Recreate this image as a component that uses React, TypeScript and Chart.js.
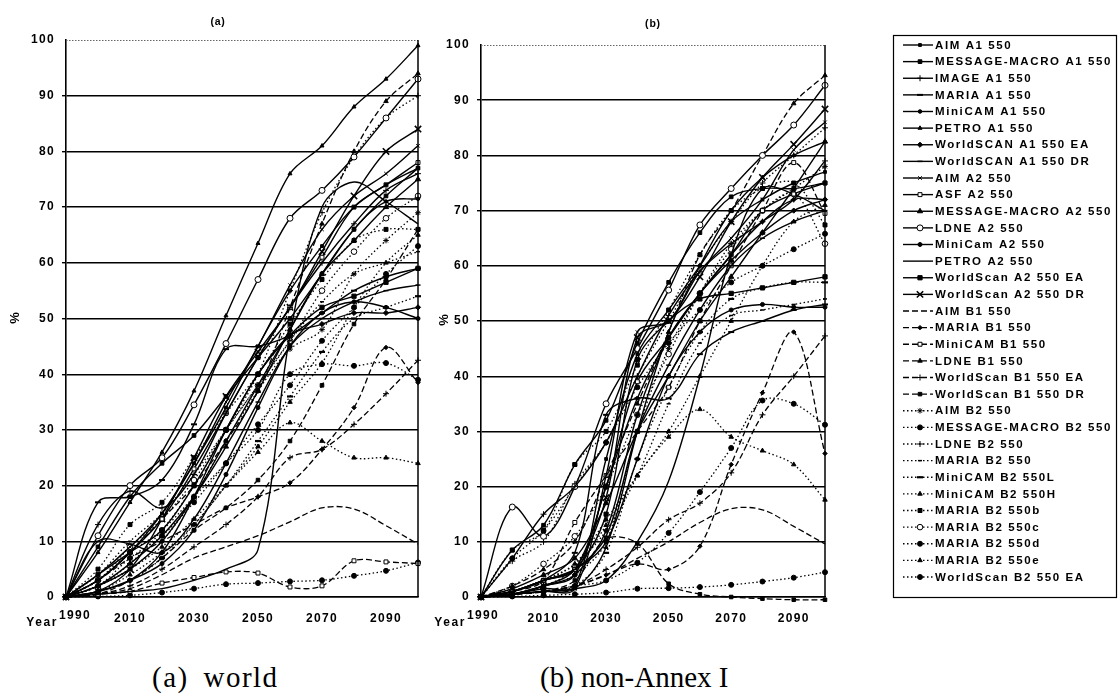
import React, { useEffect, useRef } from 'react';
import { Chart, registerables } from 'chart.js';
import { drawPoint } from 'chart.js/helpers';

Chart.register(...registerables);

const YEARS = [1990, 2000, 2010, 2020, 2030, 2040, 2050, 2060, 2070, 2080, 2090, 2100];
const X_TICKS = [1990, 2010, 2030, 2050, 2070, 2090];

const SERIES_NAMES = [
  'AIM A1 550', 'MESSAGE-MACRO A1 550', 'IMAGE A1 550', 'MARIA A1 550', 'MiniCAM A1 550',
  'PETRO A1 550', 'WorldSCAN A1 550 EA', 'WorldSCAN A1 550 DR', 'AIM A2 550', 'ASF A2 550',
  'MESSAGE-MACRO A2 550', 'LDNE A2 550', 'MiniCam A2 550', 'PETRO A2 550', 'WorldScan A2 550 EA',
  'WorldScan A2 550 DR', 'AIM B1 550', 'MARIA B1 550', 'MiniCAM B1 550', 'LDNE B1 550',
  'WorldScan B1 550 EA', 'WorldScan B1 550 DR', 'AIM B2 550', 'MESSAGE-MACRO B2 550', 'LDNE B2 550',
  'MARIA B2 550', 'MiniCAM B2 550L', 'MiniCAM B2 550H', 'MARIA B2 550b', 'MARIA B2 550c',
  'MARIA B2 550d', 'MARIA B2 550e', 'WorldScan B2 550 EA',
];

// (a) world
const W_AIM_A1 = [0, 3, 8, 15, 24, 34, 45, 55, 63, 70, 74, 77];
const W_MESSAGE_A1 = [0, 9, 18, 24, 29, 36, 43, 50, 58, 66, 72, 77];
const W_IMAGE_A1 = [0, 13, 19, 16, 22, 33, 43, 52, 60, 67, 73, 76];
const W_MARIA_A1 = [0, 17, 18, 21, 31, 44.5, 45, 47, 51, 55, 57.5, 59];
const W_MINICAM_A1 = [0, 2, 5, 10, 18, 28, 38, 48, 58, 66, 71, 71.5];
const W_PETRO_A1 = [0, 8, 17, 26, 37, 50.5, 63.5, 76, 81, 88, 93, 99];
const W_WSCAN_A1_EA = [0, 1, 3, 8, 18, 30, 40, 47, 49, 51, 51, 52];
const W_WSCAN_A1_DR = [0, 10, 9.5, 8, 14, 24, 35, 45, 50, 53, 55, 56];
const W_AIM_A2 = [0, 4, 9, 15, 24, 35, 45, 56, 66, 72, 76, 81];
const W_ASF_A2 = [0, 3, 8, 14, 23, 33, 43, 52, 61, 70, 74, 78];
const W_MESSAGE_A2 = [0, 2, 6, 11, 18, 27, 37, 48, 58, 64, 70, 75];
const W_LDNE_A2 = [0, 11, 20, 25, 34.5, 45.5, 57, 68, 73, 79, 86, 93];
const W_MINICAM_A2 = [0, 1, 3, 6, 12, 22, 34, 45, 51, 53, 52, 50];
const W_PETRO_A2 = [0, 0.5, 1, 1.5, 3, 5, 8.5, 47, 70, 74.5, 71, 67];
const W_WSCAN_A2_EA = [0, 4, 8, 12, 20, 30, 40, 47, 52, 54, 56.5, 59];
const W_WSCAN_A2_DR = [0, 1, 5, 14, 25, 36, 44, 52, 62, 72, 80, 84];
const W_AIM_B1 = [0, 0.5, 1.5, 4, 7, 9, 11, 13.5, 16, 15.8, 12.8, 9.5];
const W_MARIA_B1 = [0, 3, 7, 10, 13, 16, 18, 20.5, 26.5, 34, 44.8, 38.5];
const W_MINICAM_B1 = [0, 0.5, 1, 2.5, 3.5, 4.5, 4.3, 1.8, 2, 6.5, 6.3, 6];
const W_LDNE_B1 = [0, 3, 8, 14, 20, 28, 37, 52, 67, 80, 89, 94];
const W_WSCAN_B1_EA = [0, 0.5, 2, 5, 9, 13, 18, 25, 26.5, 31, 36.5, 42.5];
const W_WSCAN_B1_DR = [0, 0.5, 3, 7, 12, 16, 21, 28, 38, 49, 57, 66];
const W_AIM_B2 = [0, 2, 5, 10, 18, 28, 37, 44.5, 48, 58, 64, 69];
const W_MESSAGE_B2 = [0, 3, 8, 12, 18, 24, 30, 40, 41.8, 41.5, 42, 39];
const W_LDNE_B2 = [0, 2, 6, 12, 20, 30, 40, 55, 69, 79, 86, 90];
const W_MARIA_B2 = [0, 4, 10, 15, 22, 30, 38, 46, 53, 58, 60, 62];
const W_MINICAM_B2L = [0, 1, 3, 7, 13, 20, 28, 36, 44, 50, 52, 54];
const W_MINICAM_B2H = [0, 2, 5, 9, 14, 20, 26, 31.3, 28, 25, 25, 24];
const W_MARIA_B2B = [0, 5, 13, 17, 25, 33, 40, 49, 57, 64, 66, 66];
const W_MARIA_B2C = [0, 3, 9, 14, 21, 30, 38, 46, 55, 62, 68, 72];
const W_MARIA_B2D = [0, 2, 7, 11, 17, 24, 31, 38, 46, 52, 58, 63];
const W_MARIA_B2E = [0, 1, 4, 8, 13, 20, 27, 35, 42, 52, 60, 65];
const W_WSCAN_B2_EA = [0, 0.1, 0.3, 0.8, 1.5, 2.3, 2.5, 2.8, 3, 3.8, 4.7, 6.2];

// (b) non-Annex I
const N_AIM_A1 = [0, 0.5, 1.5, 2, 25, 44, 52, 60, 68, 72, 75, 77];
const N_MESSAGE_A1 = [0, 8.5, 13, 24, 32, 46, 57, 66, 72.5, 74, 74, 75];
const N_IMAGE_A1 = [0, 7, 15, 20, 28, 40, 51, 59, 64, 68, 72, 79];
const N_MARIA_A1 = [0, 1, 3, 8, 33, 36, 36, 44, 48, 50, 52, 53];
const N_MINICAM_A1 = [0, 0.5, 2, 4, 20, 36, 47, 55, 62, 68, 72, 72];
const N_PETRO_A1 = [0, 0.5, 1, 1.5, 9, 30, 48, 60, 70, 76, 80, 82.5];
const N_WSCAN_A1_EA = [0, 0.5, 2, 4, 12, 33, 47, 55, 61, 66, 70, 72];
const N_WSCAN_A1_DR = [0, 1, 3, 5, 11, 30, 42, 52, 60, 65, 68, 70];
const N_AIM_A2 = [0, 0.5, 1, 1.5, 22, 48, 50, 59, 65, 72, 81, 86];
const N_ASF_A2 = [0, 1, 3, 5, 20, 39, 47, 55, 62, 70, 73, 75];
const N_MESSAGE_A2 = [0, 1.5, 4, 7, 17, 30, 40, 50, 58, 66, 74, 82.5];
const N_LDNE_A2 = [0, 16.3, 11, 20, 35, 45, 55.6, 67.4, 74, 80, 85.5, 92.7];
const N_MINICAM_A2 = [0, 1, 3, 5, 10, 25, 40, 48, 52, 53, 52.5, 52.5];
const N_PETRO_A2 = [0, 0.5, 1, 1.5, 3, 10, 21, 40, 62, 74, 73, 70];
const N_WSCAN_A2_EA = [0, 1, 3, 5, 15, 43, 50, 54, 55, 56, 57, 58];
const N_WSCAN_A2_DR = [0, 0.5, 2, 5, 18, 47, 50, 58, 68, 76, 82, 88.4];
const N_AIM_B1 = [0, 0.5, 1, 2, 4, 7, 10, 13.5, 16, 15.8, 12.8, 9.6];
const N_MARIA_B1 = [0, 0.5, 1, 2, 4, 6, 5, 9.2, 24, 37, 48, 26];
const N_MINICAM_B1 = [0, 1, 3, 13.5, 22, 30, 38, 50, 60, 70, 78.7, 69.5];
const N_LDNE_B1 = [0, 2, 5, 10, 22, 35, 48, 62, 70, 80, 89.4, 94.5];
const N_WSCAN_B1_EA = [0, 0.5, 1, 2, 5, 9, 14, 17, 22.5, 33, 40, 47.3];
const N_WSCAN_B1_DR = [0, 0.5, 1, 3, 10.5, 9.7, 2.4, 0.5, 0, -0.3, -0.5, -0.5];
const N_AIM_B2 = [0, 0.5, 2, 4, 10, 30, 45, 55, 64, 70, 74, 78];
const N_MESSAGE_B2 = [0, 7, 12, 20, 28, 38, 46, 52, 57, 60, 63, 65.8];
const N_LDNE_B2 = [0, 6.5, 10, 20.5, 28, 40, 50, 60, 68, 75, 80, 85];
const N_MARIA_B2 = [0, 1, 3, 6, 12, 22, 35, 46, 51, 52, 53, 54];
const N_MINICAM_B2L = [0, 0.5, 1, 2, 8, 25, 38, 48, 54, 56, 57, 57];
const N_MINICAM_B2H = [0, 0.5, 2, 5, 13, 22, 29, 34, 29, 26.5, 24, 17.6];
const N_MARIA_B2B = [0, 8.5, 12, 24, 30, 42, 52, 62, 70, 74, 75, 67.4];
const N_MARIA_B2C = [0, 2, 6, 11, 20, 33, 44, 55, 63, 70, 73, 64];
const N_MARIA_B2D = [0, 0.5, 1, 2, 3, 6.2, 11.6, 19, 27, 35.6, 35, 31.2];
const N_MARIA_B2E = [0, 1, 3, 6, 14, 22, 30, 40, 50, 60, 68, 71];
const N_WSCAN_B2_EA = [0, 0.1, 0.3, 0.5, 0.8, 1.5, 1.6, 1.8, 2.2, 2.8, 3.5, 4.5];

const WORLD_SERIES = [
  W_AIM_A1, W_MESSAGE_A1, W_IMAGE_A1, W_MARIA_A1, W_MINICAM_A1, W_PETRO_A1, W_WSCAN_A1_EA,
  W_WSCAN_A1_DR, W_AIM_A2, W_ASF_A2, W_MESSAGE_A2, W_LDNE_A2, W_MINICAM_A2, W_PETRO_A2,
  W_WSCAN_A2_EA, W_WSCAN_A2_DR, W_AIM_B1, W_MARIA_B1, W_MINICAM_B1, W_LDNE_B1, W_WSCAN_B1_EA,
  W_WSCAN_B1_DR, W_AIM_B2, W_MESSAGE_B2, W_LDNE_B2, W_MARIA_B2, W_MINICAM_B2L, W_MINICAM_B2H,
  W_MARIA_B2B, W_MARIA_B2C, W_MARIA_B2D, W_MARIA_B2E, W_WSCAN_B2_EA,
];
const NONANNEX_SERIES = [
  N_AIM_A1, N_MESSAGE_A1, N_IMAGE_A1, N_MARIA_A1, N_MINICAM_A1, N_PETRO_A1, N_WSCAN_A1_EA,
  N_WSCAN_A1_DR, N_AIM_A2, N_ASF_A2, N_MESSAGE_A2, N_LDNE_A2, N_MINICAM_A2, N_PETRO_A2,
  N_WSCAN_A2_EA, N_WSCAN_A2_DR, N_AIM_B1, N_MARIA_B1, N_MINICAM_B1, N_LDNE_B1, N_WSCAN_B1_EA,
  N_WSCAN_B1_DR, N_AIM_B2, N_MESSAGE_B2, N_LDNE_B2, N_MARIA_B2, N_MINICAM_B2L, N_MINICAM_B2H,
  N_MARIA_B2B, N_MARIA_B2C, N_MARIA_B2D, N_MARIA_B2E, N_WSCAN_B2_EA,
];

// ---- styles (kept apart from the data) ----
type Mk = { s: any; r: number; open?: boolean; bw?: number };
const LINE_TYPES = [
  ...Array(16).fill('solid'),
  ...Array(6).fill('dashed'),
  ...Array(11).fill('dotted'),
];
const MARKERS: Mk[] = [
  { s: 'rect', r: 2 }, { s: 'rect', r: 2.6 }, { s: 'cross', r: 3 }, { s: 'line', r: 3, bw: 2 },
  { s: 'circle', r: 1.8 }, { s: 'triangle', r: 2.3 }, { s: 'rectRot', r: 2.6 }, { s: 'line', r: 2.5, bw: 1.5 },
  { s: 'crossRot', r: 2.5 }, { s: 'rect', r: 2.8, open: true }, { s: 'triangle', r: 3 }, { s: 'circle', r: 3, open: true },
  { s: 'circle', r: 2 }, { s: false, r: 0 }, { s: 'rect', r: 3 }, { s: 'crossRot', r: 4.5, bw: 1.6 },
  { s: false, r: 0 }, { s: 'rectRot', r: 2.2 }, { s: 'rect', r: 2.8, open: true }, { s: 'triangle', r: 2.6 },
  { s: 'cross', r: 3 }, { s: 'rect', r: 2.5 }, { s: 'star', r: 2.8 }, { s: 'circle', r: 2.5 },
  { s: 'cross', r: 3 }, { s: 'line', r: 2, bw: 1.5 }, { s: 'line', r: 3, bw: 2.2 }, { s: 'triangle', r: 2.6 },
  { s: 'rect', r: 2.8 }, { s: 'circle', r: 2.8, open: true }, { s: 'circle', r: 2.5 }, { s: 'triangle', r: 2.6 },
  { s: 'circle', r: 2.5 },
];

const FONT = '"Liberation Sans", Arial, sans-serif';

function makeDatasets(series: number[][]) {
  return series.map((vals, i) => {
    const m = MARKERS[i];
    const lt = LINE_TYPES[i];
    return {
      label: SERIES_NAMES[i],
      data: YEARS.map((x, j) => ({ x, y: vals[j] })),
      borderColor: '#000',
      borderWidth: lt === 'solid' ? 1.4 : 1.3,
      borderDash: lt === 'dashed' ? [6, 3] : lt === 'dotted' ? [1.5, 2.5] : [],
      tension: 0.35,
      pointStyle: m.s,
      pointRadius: m.r,
      pointBackgroundColor: m.open ? '#fff' : '#000',
      pointBorderColor: '#000',
      pointBorderWidth: m.bw ?? 1,
      clip: false,
      fill: false,
    };
  });
}

function decorPlugin(cfg: { ox: number; title: string; titleX: number; titleY: number; pctX: number; pctY: number; yearRight: number; firstX: number }) {
  return {
    id: 'decor',
    beforeUpdate(chart: any) { chart.ctx.letterSpacing = '1.3px'; },
    beforeDraw(chart: any) {
      const ctx = chart.ctx;
      ctx.save();
      ctx.fillStyle = '#fff';
      ctx.fillRect(0, 0, chart.width, chart.height);
      ctx.restore();
      ctx.letterSpacing = '1.3px';
    },
    afterDraw(chart: any) {
      const ctx = chart.ctx;
      const { left, right, top, bottom } = chart.chartArea;
      ctx.save();
      ctx.strokeStyle = '#666';
      ctx.lineWidth = 1;
      ctx.setLineDash([1.5, 1.5]);
      ctx.beginPath(); ctx.moveTo(left, top + 0.5); ctx.lineTo(right, top + 0.5); ctx.stroke();
      ctx.setLineDash([]);
      ctx.strokeStyle = '#000';
      ctx.lineWidth = 1.5;
      ctx.beginPath(); ctx.moveTo(right, top); ctx.lineTo(right, bottom); ctx.stroke();
      ctx.fillStyle = '#000';
      ctx.letterSpacing = '0.8px';
      ctx.font = `bold 10.5px ${FONT}`;
      ctx.textAlign = 'center';
      ctx.textBaseline = 'middle';
      ctx.fillText(cfg.title, cfg.titleX - cfg.ox, cfg.titleY);
      ctx.save();
      ctx.translate(cfg.pctX - cfg.ox, cfg.pctY);
      ctx.rotate(-Math.PI / 2);
      ctx.letterSpacing = '0px';
      ctx.font = `bold 13px ${FONT}`;
      ctx.fillText('%', 0, 0);
      ctx.restore();
      ctx.letterSpacing = '1.6px';
      ctx.font = `bold 12px ${FONT}`;
      ctx.textAlign = 'right';
      ctx.fillText('Year', cfg.yearRight - cfg.ox, 623);
      // first x tick label, set slightly higher as in the source figure
      const xs = chart.scales.x;
      const v = X_TICKS[0];
      ctx.letterSpacing = '1.3px';
      ctx.textAlign = 'center';
      ctx.fillText(String(v), xs.getPixelForValue(v) + cfg.firstX, 616);
      ctx.restore();
    },
  };
}

const LEG_OX = 430;
const legendPlugin = {
  id: 'sideLegend',
  afterDraw(chart: any) {
    const ctx = chart.ctx;
    const ox = LEG_OX;
    ctx.save();
    ctx.strokeStyle = '#000';
    ctx.lineWidth = 1.2;
    ctx.setLineDash([]);
    ctx.strokeRect(893 - ox + 0.5, 35.5, 1116 - 893, 597 - 35);
    chart.data.datasets.forEach((ds: any, i: number) => {
      const y = 45 + i * 16.625;
      ctx.strokeStyle = '#000';
      ctx.setLineDash(ds.borderDash || []);
      ctx.lineWidth = ds.borderWidth;
      ctx.beginPath(); ctx.moveTo(903 - ox, y); ctx.lineTo(933 - ox, y); ctx.stroke();
      ctx.setLineDash([]);
      if (ds.pointRadius > 0 && ds.pointStyle) {
        ctx.fillStyle = ds.pointBackgroundColor;
        ctx.strokeStyle = '#000';
        ctx.lineWidth = ds.pointBorderWidth;
        drawPoint(ctx, { pointStyle: ds.pointStyle, radius: ds.pointRadius, borderWidth: ds.pointBorderWidth, rotation: 0 } as any, 920 - ox, y);
      }
      ctx.fillStyle = '#000';
      ctx.font = `bold 11.5px ${FONT}`;
      ctx.letterSpacing = '1.6px';
      ctx.textAlign = 'left';
      ctx.textBaseline = 'middle';
      ctx.fillText(ds.label, 935 - ox, y + 0.5);
    });
    ctx.restore();
  },
};

function buildConfig(series: number[][], yAxisWidth: number, padTop: number, padRight: number, plugins: any[]) {
  const tickFont = { family: FONT, size: 12, weight: 'bold' as const };
  return {
    type: 'line' as const,
    data: { datasets: makeDatasets(series) as any },
    options: {
      animation: false as const,
      responsive: false,
      maintainAspectRatio: false,
      devicePixelRatio: 1,
      layout: { padding: { top: padTop, right: padRight, left: 0, bottom: 0 } },
      plugins: { legend: { display: false }, tooltip: { enabled: false }, title: { display: false } },
      elements: { line: { capBezierPoints: true } },
      scales: {
        x: {
          type: 'linear' as const,
          min: 1990,
          max: 2100,
          grid: { display: false },
          border: { display: true, color: '#000', width: 1.5 },
          ticks: {
            color: '#000', font: tickFont, padding: 6, maxRotation: 0, autoSkip: false,
            callback: (v: any) => (v === X_TICKS[0] ? '' : String(v)),
          },
          afterBuildTicks: (s: any) => { s.ticks = X_TICKS.map((v) => ({ value: v })); },
          afterFit: (s: any) => { s.height = 43; },
        },
        y: {
          type: 'linear' as const,
          min: 0,
          max: 100,
          ticks: { stepSize: 10, color: '#000', font: tickFont, padding: 7, callback: (v: any) => String(v) },
          grid: {
            color: (c: any) => (c.tick && c.tick.value === 100 ? 'rgba(0,0,0,0)' : '#000'),
            lineWidth: 1.4,
            tickLength: 4,
            drawTicks: true,
          },
          border: { color: '#000', width: 1.6 },
          afterFit: (s: any) => { s.width = yAxisWidth; },
        },
      },
    },
    plugins,
  };
}

function App() {
  const refA = useRef<HTMLCanvasElement>(null);
  const refB = useRef<HTMLCanvasElement>(null);

  useEffect(() => {
    const a = new Chart(refA.current as HTMLCanvasElement, buildConfig(WORLD_SERIES, 66, 40, 12, [
      decorPlugin({ ox: 0, title: '(a)', titleX: 218, titleY: 22, pctX: 15, pctY: 318, yearRight: 58, firstX: 9 }),
    ]) as any);
    const b = new Chart(refB.current as HTMLCanvasElement, buildConfig(NONANNEX_SERIES, 51, 45, 293, [
      decorPlugin({ ox: LEG_OX, title: '(b)', titleX: 653, titleY: 24, pctX: 444, pctY: 320, yearRight: 466, firstX: 2 }),
      legendPlugin,
    ]) as any);
    return () => { a.destroy(); b.destroy(); };
  }, []);

  const caption: React.CSSProperties = {
    position: 'absolute',
    fontFamily: '"Liberation Serif", "Times New Roman", serif',
    fontSize: 29,
    lineHeight: '30px',
    color: '#000',
    whiteSpace: 'nowrap',
  };

  return (
    <div style={{ position: 'absolute', left: 0, top: 0, width: 1118, height: 698, background: '#fff', overflow: 'hidden' }}>
      <canvas ref={refA} width={430} height={640} style={{ position: 'absolute', left: 0, top: 0, display: 'block' }} />
      <canvas ref={refB} width={688} height={640} style={{ position: 'absolute', left: LEG_OX, top: 0, display: 'block' }} />
      <div style={{ ...caption, left: 152, top: 662, letterSpacing: 1.5, wordSpacing: 6 }}>(a) world</div>
      <div style={{ ...caption, left: 540, top: 662 }}>(b) non-Annex I</div>
    </div>
  );
}

export default App;
